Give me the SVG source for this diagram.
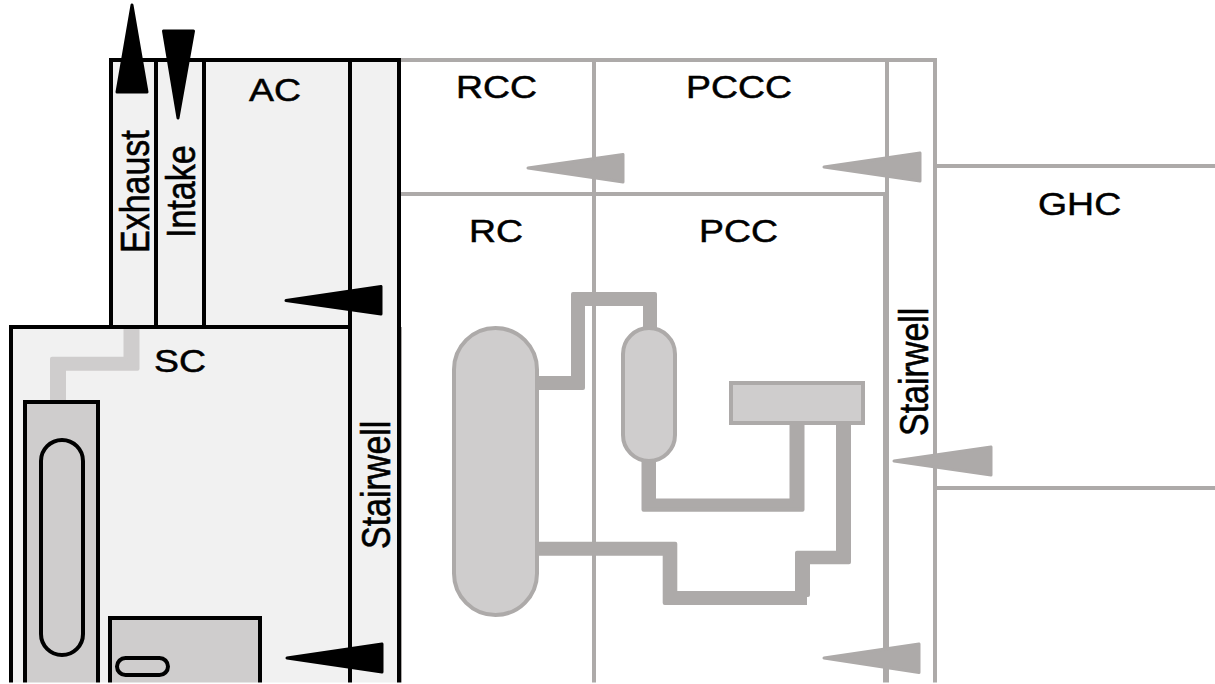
<svg xmlns="http://www.w3.org/2000/svg" width="1215" height="684" viewBox="0 0 1215 684">
<style>
.k{fill:none;stroke:#000;stroke-width:4}
.g{fill:none;stroke:#adaaa9;stroke-width:4}
.t{font-family:"Liberation Sans",Arial,sans-serif;font-size:32px;fill:#000;stroke:#000;stroke-width:.5}
.tv{font-family:"Liberation Sans",Arial,sans-serif;font-size:34px;fill:#000;stroke:#000;stroke-width:.5}
.pipe{fill:#adaaa9;stroke:#adaaa9;stroke-width:4;stroke-linejoin:round}
.vessel{fill:#cfcdcd;stroke:#adaaa9;stroke-width:4}
.equip{fill:#cfcdcd;stroke:#000;stroke-width:4}
.ah{fill:#000;stroke:#000;stroke-width:3;stroke-linejoin:round}
.ahg{fill:#adaaa9;stroke:#adaaa9;stroke-width:3;stroke-linejoin:round}
</style>
<rect width="1215" height="684" fill="#fff"/>
<g id="clean-side">
<path class="g" d="M399 60H935V684M594 60V684M399 194H885M887 60V194"/>
<path fill="none" stroke="#adaaa9" stroke-width="6" d="M886 192V684"/>
<path class="g" d="M935 166H1215M935 488H1215M400 327V684"/>
</g>
<g id="building">
<path fill="#f1f1f1" d="M111 60H399V684H11V327H111Z"/>
<path class="pipe" id="sc-duct" style="fill:#cfcdcd;stroke:#cfcdcd" d="M125.500 329H137.500V368.700H64V400H52V358.700H125.500Z"/>
<path class="k" d="M111 327V60H399V684M350 60V684M156 60V327M204 60V327M11 684V327H350"/>
</g>
<g id="fuel-pool">
<rect class="equip" x="25" y="402" width="73" height="300"/>
<rect class="equip" x="41" y="440" width="42" height="215" rx="21"/>
</g>
<g id="sc-tank">
<rect class="equip" x="110" y="618" width="150" height="90"/>
<rect class="equip" x="117" y="658" width="51" height="17" rx="8.500"/>
</g>
<g id="connectors">
<path class="pipe" d="M536 378H573V294H655V330H645V304H583V388H536Z"/>
<path class="pipe" d="M643.500 462H654V500.500H791.500V424H802.500V509.700H643.500Z"/>
<path class="pipe" d="M536 543.700H675.300V593H804V603H664.700V553.700H536Z"/>
<rect x="790" y="591" width="17" height="14" fill="#adaaa9"/>
<path class="pipe" d="M838 424H849V562.300H808V595H797V552.700H838Z"/>
</g>
<g id="rpv"><rect class="vessel" x="454" y="328" width="83" height="287" rx="41.500"/></g>
<g id="pressurizer"><rect class="vessel" x="623" y="328" width="52" height="133" rx="26"/></g>
<g id="steam-generator"><rect class="vessel" x="731" y="383" width="132" height="40"/></g>
<g id="arrows">
<path class="ah" d="M132 5L147 92H117Z"/>
<path class="ah" d="M163.500 31H193.500L178 118Z"/>
<path class="ah" d="M286 300.500L381 286.500V314Z"/>
<path class="ah" d="M287 658L382 644V672Z"/>
<path class="ahg" d="M528 168L623 154.500V182Z"/>
<path class="ahg" d="M824 167L920 153V181Z"/>
<path class="ahg" d="M894 461L991 447V475Z"/>
<path class="ahg" d="M824 658L919 644V672.500Z"/>
</g>
<g id="labels">
<text class="t" transform="translate(249 101) scale(1.17 1)">AC</text>
<text class="t" transform="translate(456 97.500) scale(1.17 1)">RCC</text>
<text class="t" transform="translate(686 97.500) scale(1.17 1)">PCCC</text>
<text class="t" transform="translate(1038 215) scale(1.17 1)">GHC</text>
<text class="t" transform="translate(469 242) scale(1.17 1)">RC</text>
<text class="t" transform="translate(699 242) scale(1.17 1)">PCC</text>
<text class="t" transform="translate(154 372) scale(1.17 1)">SC</text>
<text class="tv" transform="translate(149 253) scale(1.22 1) rotate(-90)">Exhaust</text>
<text class="tv" transform="translate(195 238) scale(1.22 1) rotate(-90)">Intake</text>
<text class="tv" transform="translate(389.500 549) scale(1.22 1) rotate(-90)">Stairwell</text>
<text class="tv" transform="translate(927.500 436) scale(1.22 1) rotate(-90)">Stairwell</text>
</g>
<rect x="0" y="682.500" width="1215" height="2" fill="#fff"/>
</svg>
